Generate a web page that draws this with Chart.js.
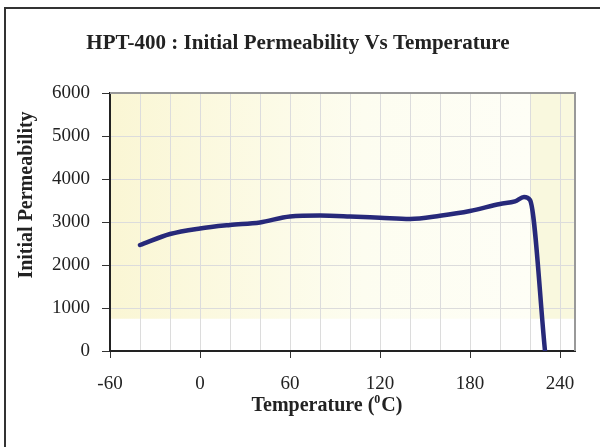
<!DOCTYPE html>
<html>
<head>
<meta charset="utf-8">
<script src="https://cdn.jsdelivr.net/npm/chart.js@4.4.1/dist/chart.umd.min.js"></script>
<style>
  html, body { margin: 0; padding: 0; background: #fff; }
  #wrap { width: 600px; height: 447px; }
</style>
</head>
<body>
<div id="wrap"><canvas id="c" width="600" height="447"></canvas></div>
<script>
// Initial permeability, temperature in degC
const temperatures = [-40, -20, 0, 20, 40, 60, 80, 100, 120, 140, 160, 180, 200, 210, 216, 220, 230]
const permeability = [2465, 2720, 2850, 2930, 2990, 3130, 3150, 3130, 3100, 3070, 3145, 3255, 3420, 3480, 3580, 3510, 0]
const xTickLabels = [-60, 0, 60, 120, 180, 240]
const yTickLabels = [0, 1000, 2000, 3000, 4000, 5000, 6000]

const chartTitle = "HPT-400 : Initial Permeability Vs Temperature"
// x title is "Temperature (0C)" with the 0 raised
const xTitleParts = ["Temperature (", "0", "C)"]
const yTitle = "Initial Permeability"

const serif = "'Liberation Serif', 'Times New Roman', serif"
const ink = "#222"

// frame, tinted plot background, top/right plot border and the titles
// (the titles sit off-centre in the original, so they are placed by hand)
const decor = {
  id: "decor",
  beforeDraw(chart) {
    const { ctx, chartArea: a, scales } = chart
    ctx.save()
    const yTop = scales.y.getPixelForValue(6000)
    const yLow = scales.y.getPixelForValue(750)
    const xStep = scales.x.getPixelForValue(220)
    const g = ctx.createLinearGradient(a.left, 0, xStep, 0)
    g.addColorStop(0, "#faf6d4")
    g.addColorStop(0.6, "#fdfdf0")
    g.addColorStop(1, "#fefef6")
    ctx.fillStyle = g
    ctx.fillRect(a.left, yTop, xStep - a.left, yLow - yTop)
    ctx.fillStyle = "#f9f8de"
    ctx.fillRect(xStep, yTop, a.right - xStep, yLow - yTop)
    ctx.restore()
  },
  afterDraw(chart) {
    const { ctx, chartArea: a } = chart
    ctx.save()
    ctx.strokeStyle = "#999"
    ctx.lineWidth = 2
    ctx.beginPath()
    ctx.moveTo(a.left, a.top)
    ctx.lineTo(a.right, a.top)
    ctx.lineTo(a.right, a.bottom)
    ctx.stroke()

    ctx.strokeStyle = "#333"
    ctx.beginPath()
    ctx.moveTo(5, 447)
    ctx.lineTo(5, 8)
    ctx.lineTo(600, 8)
    ctx.stroke()

    ctx.fillStyle = ink
    ctx.textAlign = "center"
    ctx.textBaseline = "middle"
    ctx.font = "bold 21px " + serif
    ctx.fillText(chartTitle, 298, 44)

    // x title with a small raised 0
    const big = "bold 20px " + serif
    const small = "bold 12px " + serif
    ctx.textAlign = "left"
    ctx.textBaseline = "alphabetic"
    ctx.font = big
    const w0 = ctx.measureText(xTitleParts[0]).width
    const w2 = ctx.measureText(xTitleParts[2]).width
    ctx.font = small
    const w1 = ctx.measureText(xTitleParts[1]).width + 1
    let x = 327 - (w0 + w1 + w2) / 2
    const base = 411
    ctx.font = big
    ctx.fillText(xTitleParts[0], x, base)
    x += w0
    ctx.font = small
    ctx.fillText(xTitleParts[1], x, base - 8)
    x += w1
    ctx.font = big
    ctx.fillText(xTitleParts[2], x, base)

    ctx.textAlign = "center"
    ctx.textBaseline = "middle"
    ctx.translate(27, 195)
    ctx.rotate(-Math.PI / 2)
    ctx.font = "bold 20px " + serif
    ctx.fillText(yTitle, 0, 0)
    ctx.restore()
  }
}

new Chart(document.getElementById("c").getContext("2d"), {
  type: "line",
  data: {
    datasets: [{
      data: temperatures.map((t, i) => ({ x: t, y: permeability[i] })),
      borderColor: "#27297a",
      borderWidth: 4.5,
      pointRadius: 0,
      fill: false,
      cubicInterpolationMode: "monotone",
      borderCapStyle: "round",
      borderJoinStyle: "round"
    }]
  },
  options: {
    responsive: false,
    animation: false,
    layout: { padding: { left: 50, right: 25, top: 93, bottom: 36 } },
    plugins: {
      legend: { display: false },
      tooltip: { enabled: false },
      title: { display: false }
    },
    scales: {
      x: {
        type: "linear",
        min: -60,
        max: 250,
        afterFit: (s) => { s.height = 60 },
        ticks: {
          stepSize: 20,
          includeBounds: false,
          autoSkip: false,
          maxRotation: 0,
          padding: 15,
          color: ink,
          font: { family: serif, size: 19 },
          callback: (v) => (xTickLabels.includes(v) ? String(v) : "")
        },
        grid: {
          color: "#dcdcdc",
          lineWidth: 1,
          tickLength: 7,
          tickColor: (c) => (c.tick && xTickLabels.includes(c.tick.value) ? "#333" : "rgba(0,0,0,0)")
        },
        border: { color: "#222", width: 2 }
      },
      y: {
        min: 0,
        max: 6000,
        afterFit: (s) => { s.width = 60 },
        ticks: {
          stepSize: 1000,
          padding: 12,
          color: ink,
          font: { family: serif, size: 19 },
          callback: (v) => (yTickLabels.includes(v) ? String(v) : "")
        },
        grid: { color: "#dcdcdc", lineWidth: 1, tickLength: 8, tickColor: "#333" },
        border: { color: "#222", width: 2 }
      }
    }
  },
  plugins: [decor]
})
</script>
</body>
</html>
